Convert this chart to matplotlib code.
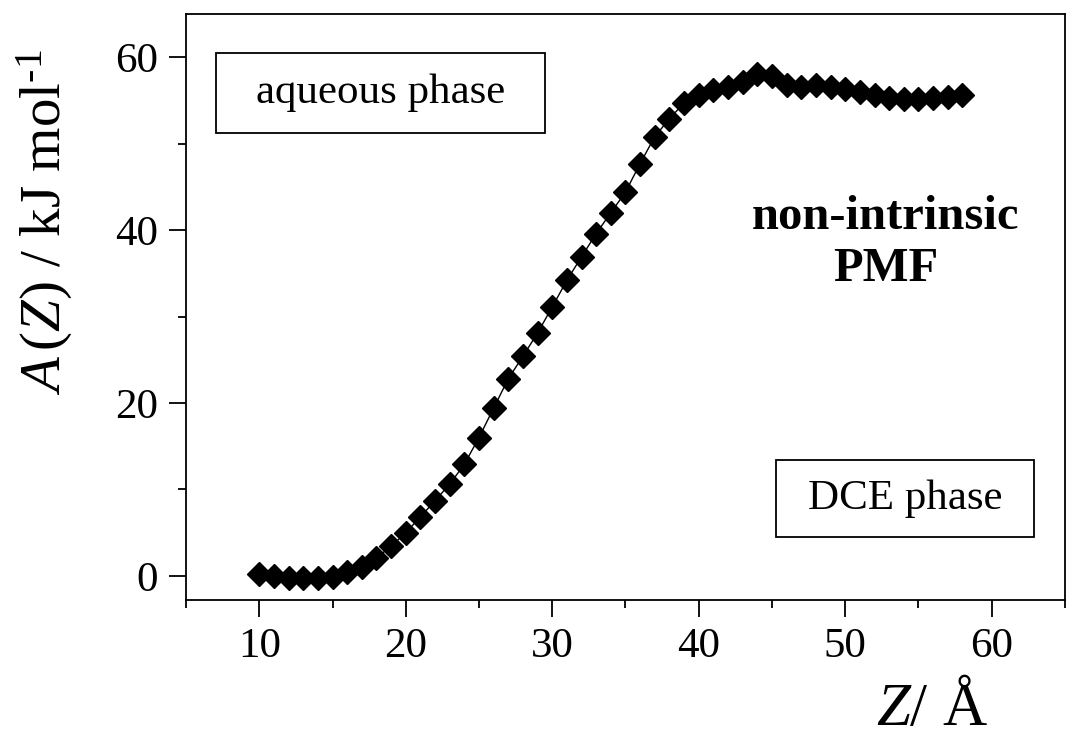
import numpy as np
import matplotlib
matplotlib.use("Agg")
import matplotlib.pyplot as plt
from matplotlib.patches import Rectangle
from matplotlib.ticker import MultipleLocator

# PMF data
z = np.arange(10, 59)
a_z = [0.2, 0.0, -0.3, -0.3, -0.3, -0.1, 0.4, 1.0, 2.1, 3.4,
       5.0, 6.8, 8.7, 10.6, 12.9, 16.0, 19.4, 22.8, 25.4, 28.1,
       31.1, 34.2, 36.9, 39.6, 42.0, 44.4, 47.7, 50.8, 52.9, 54.7,
       55.6, 56.2, 56.5, 57.1, 58.1, 57.8, 56.8, 56.6, 56.8, 56.5,
       56.3, 56.0, 55.6, 55.3, 55.2, 55.2, 55.3, 55.4, 55.6]

x_ticks = [10, 20, 30, 40, 50, 60]
y_ticks = [0, 20, 40, 60]

plt.rcParams['font.family'] = 'Liberation Serif'
plt.rcParams['mathtext.fontset'] = 'custom'
plt.rcParams['mathtext.rm'] = 'Liberation Serif'
plt.rcParams['mathtext.it'] = 'Liberation Serif:italic'

fig = plt.figure(figsize=(10.66, 7.38), dpi=100)
ax = fig.add_axes([0.1745, 0.187, 0.8245, 0.794])

ax.plot(z, a_z, color='black', lw=1.0, marker='D', markersize=12,
        markerfacecolor='black', markeredgecolor='black')

ax.set_xlim(5, 65)
ax.set_ylim(-2.8, 65)
ax.set_xticks(x_ticks)
ax.set_yticks(y_ticks)
ax.xaxis.set_minor_locator(MultipleLocator(5))
ax.yaxis.set_minor_locator(MultipleLocator(10))

for s in ax.spines.values():
    s.set_linewidth(1.3)
ax.tick_params(which='major', direction='out', length=12, width=1.3,
               labelsize=31, pad=8)
ax.tick_params(which='minor', direction='out', length=6, width=1.3)
ax.tick_params(which='both', top=False, right=False)

# boxed phase labels
ax.add_patch(Rectangle((0.034, 0.797), 0.374, 0.136, transform=ax.transAxes,
                       fill=False, ec='black', lw=1.3))
ax.text(0.221, 0.865, 'aqueous phase', transform=ax.transAxes,
        ha='center', va='center', fontsize=31)
ax.add_patch(Rectangle((0.671, 0.1075), 0.294, 0.1315, transform=ax.transAxes,
                       fill=False, ec='black', lw=1.3))
ax.text(0.818, 0.173, 'DCE phase', transform=ax.transAxes,
        ha='center', va='center', fontsize=31)

ax.text(0.796, 0.609, 'non-intrinsic\nPMF', transform=ax.transAxes,
        ha='center', va='center', fontsize=35, fontweight='bold',
        linespacing=1.25)

fig.text(0.874, 0.018, r'$Z$/ Å', ha='center', va='baseline', fontsize=44)
fig.text(0.042, 0.699, r'$A\,(Z)$ / kJ mol$^{\text{-}1}$', ha='center',
         va='center', rotation=90, fontsize=41)

plt.savefig('out.png', dpi=100)
